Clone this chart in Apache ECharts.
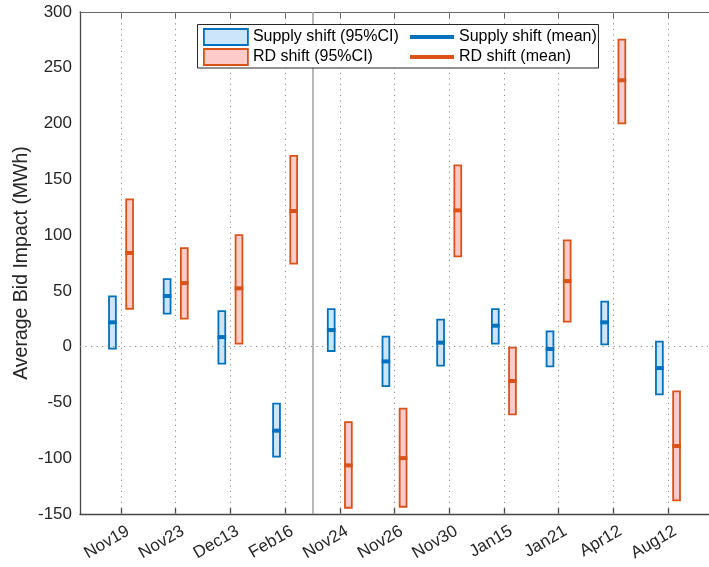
<!DOCTYPE html>
<html>
<head>
<meta charset="utf-8">
<script src="https://cdn.jsdelivr.net/npm/echarts@6/dist/echarts.min.js"></script>
<style>html,body{margin:0;padding:0;background:#fff}#c{width:709px;height:567px}</style>
</head>
<body>
<div id="c"></div>
<script>
const categories = ['Nov19','Nov23','Dec13','Feb16','Nov24','Nov26','Nov30','Jan15','Jan21','Apr12','Aug12'];
const supplyLow  = [-1.8, 29.6, -15.2, -98.6, -3.9, -35.3, -17.0, 2.7, -17.7, 2.1, -42.8];
const supplyHigh = [45.1, 60.6, 31.9, -51.1, 33.6, 9.0, 24.2, 33.7, 13.7, 40.3, 4.5];
const supplyMean = [21.8, 45.4, 8.6, -75.3, 14.9, -13.2, 3.6, 18.8, -2.1, 21.8, -19.2];
const rdLow  = [34.0, 25.1, 2.7, 74.4, -144.4, -143.5, 81.0, -60.7, 22.4, 200.2, -137.8];
const rdHigh = [132.0, 88.4, 100.0, 171.0, -67.6, -55.6, 162.6, -0.9, 95.3, 275.3, -40.1];
const rdMean = [84.0, 57.0, 52.3, 121.6, -106.4, -99.9, 122.2, -30.8, 58.8, 238.8, -89.1];
const yTicks = [-150, -100, -50, 0, 50, 100, 150, 200, 250, 300];
const separatorAt = 4.5;

const catPos = categories.map((c, i) => i + 1);
const LABEL_SHIFT = 0.13;
const OFF = 0.157, BW = 0.125;
const BLUE = '#0072BD', BLUE_F = '#cde5fa', RED = '#D95319', RED_F = '#fdcbca';
const FONT = 'Liberation Sans, Arial, Helvetica, sans-serif';

function ciData(low, high, off) { return catPos.map((p, i) => [p + off, low[i], high[i]]); }
function meanData(mean, off) { return catPos.map((p, i) => [p + off, mean[i]]); }

function ciRender(fill, stroke) {
  return function (params, api) {
    const x = api.value(0);
    const a = api.coord([x, api.value(2)]);
    const b = api.coord([x, api.value(1)]);
    const w = api.size([BW, 0])[0];
    return { type: 'rect', shape: { x: a[0] - w / 2, y: a[1], width: w, height: b[1] - a[1] },
      style: { fill: fill, stroke: stroke, lineWidth: 1.8 } };
  };
}
function meanRender(stroke) {
  return function (params, api) {
    const x = api.value(0);
    const a = api.coord([x, api.value(1)]);
    const w = api.size([BW, 0])[0] + 1.8;
    return { type: 'line', shape: { x1: a[0] - w / 2, y1: a[1], x2: a[0] + w / 2, y2: a[1] },
      style: { stroke: stroke, lineWidth: 4 }, z2: 5 };
  };
}

const chart = echarts.init(document.getElementById('c'), null, { renderer: 'canvas' });
const axisLineStyle = { color: '#454545', width: 1.3 };
chart.setOption({
  animation: false,
  textStyle: { fontFamily: FONT },
  grid: { left: 80, top: 12, width: 636.6, height: 502 },
  xAxis: [{
    type: 'value', min: 0.25, max: 11.75, position: 'bottom',
    axisLine: { show: true, onZero: false, lineStyle: axisLineStyle },
    axisTick: { show: true, inside: true, length: 6, customValues: catPos, lineStyle: axisLineStyle },
    axisLabel: { customValues: catPos.map(p => p + LABEL_SHIFT), rotate: 30, margin: 16, fontSize: 17,
      color: '#262626', fontFamily: FONT,
      formatter: v => categories[Math.round(v - LABEL_SHIFT) - 1] || '' },
    splitLine: { show: false }
  }, {
    type: 'value', min: 0.25, max: 11.75, position: 'top',
    axisLine: { show: true, onZero: false, lineStyle: { color: '#666', width: 1 } },
    axisTick: { show: true, inside: true, length: 6, customValues: catPos, lineStyle: { color: '#666', width: 1 } },
    axisLabel: { show: false }, splitLine: { show: false }
  }],
  yAxis: {
    type: 'value', min: -150, max: 300, interval: 50,
    name: 'Average Bid Impact (MWh)', nameLocation: 'middle', nameGap: 48, nameMoveOverlap: false,
    nameTextStyle: { fontSize: 19.5, color: '#262626', fontFamily: FONT },
    axisLine: { show: true, onZero: false, lineStyle: axisLineStyle },
    axisTick: { show: false },
    axisLabel: { fontSize: 17, color: '#262626', margin: 8, fontFamily: FONT },
    splitLine: { show: false }
  },
  legend: [{
    orient: 'vertical', left: 198, top: 22, itemWidth: 44, itemHeight: 16, itemGap: 0,
    textStyle: { fontSize: 16, color: '#000', lineHeight: 20, fontFamily: FONT }, z: 8,
    data: [
      { name: 'Supply shift (95%CI)', icon: 'rect', itemStyle: { color: BLUE_F, borderColor: BLUE, borderWidth: 1.8 } },
      { name: 'RD shift (95%CI)', icon: 'rect', itemStyle: { color: RED_F, borderColor: RED, borderWidth: 1.8 } }
    ]
  }, {
    orient: 'vertical', left: 405, top: 22, itemWidth: 44, itemHeight: 4, itemGap: 0,
    textStyle: { fontSize: 16, color: '#000', lineHeight: 20, fontFamily: FONT }, z: 8,
    data: [
      { name: 'Supply shift (mean)', icon: 'rect', itemStyle: { color: BLUE, borderWidth: 0 } },
      { name: 'RD shift (mean)', icon: 'rect', itemStyle: { color: RED, borderWidth: 0 } }
    ]
  }],
  graphic: [{
    type: 'rect', left: 197, top: 24, z: 7,
    shape: { width: 401, height: 43.5 },
    style: { fill: '#fff', stroke: '#262626', lineWidth: 1 }
  }],
  series: [
    {
      type: 'line', data: [], silent: true, z: 1, symbol: 'none',
      markLine: {
        silent: true, symbol: 'none', label: { show: false }, animation: false,
        lineStyle: { color: '#8a8a8a', type: [1.2, 4.3], width: 1 },
        data: catPos.map(p => ({ xAxis: p })).concat([{ yAxis: 0 },
          { xAxis: separatorAt, lineStyle: { color: '#a6a6a6', type: 'solid', width: 1.6 } }])
      }
    },
    { name: 'Supply shift (95%CI)', type: 'custom', z: 3, renderItem: ciRender(BLUE_F, BLUE),
      itemStyle: { color: BLUE_F, borderColor: BLUE, borderWidth: 1.8 }, data: ciData(supplyLow, supplyHigh, -OFF) },
    { name: 'RD shift (95%CI)', type: 'custom', z: 3, renderItem: ciRender(RED_F, RED),
      itemStyle: { color: RED_F, borderColor: RED, borderWidth: 1.8 }, data: ciData(rdLow, rdHigh, OFF) },
    { name: 'Supply shift (mean)', type: 'custom', z: 4, renderItem: meanRender(BLUE),
      itemStyle: { color: BLUE }, data: meanData(supplyMean, -OFF) },
    { name: 'RD shift (mean)', type: 'custom', z: 4, renderItem: meanRender(RED),
      itemStyle: { color: RED }, data: meanData(rdMean, OFF) }
  ]
});
</script>
</body>
</html>
